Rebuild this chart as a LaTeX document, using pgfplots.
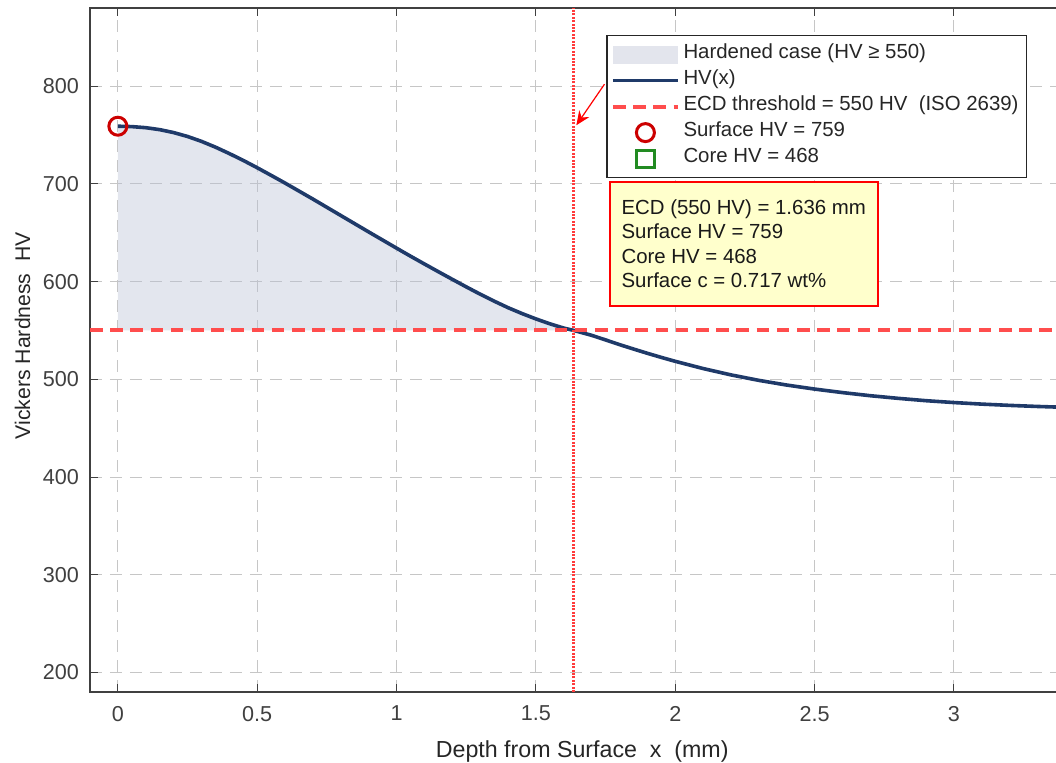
\documentclass[border=0pt]{standalone}
\usepackage{fontspec}
\setmainfont{Liberation Sans}
\usepackage{pgfplots}
\pgfplotsset{compat=1.18}
\usepackage{pgfplotstable}
\usetikzlibrary{arrows.meta}

\definecolor{curvec}{RGB}{31,58,105}
\definecolor{fillc}{RGB}{185,192,212}
\definecolor{thrc}{RGB}{255,77,77}
\definecolor{vlinec}{RGB}{255,60,60}
\definecolor{surfc}{RGB}{204,0,0}
\definecolor{corec}{RGB}{34,139,34}
\definecolor{axc}{RGB}{64,64,64}
\definecolor{txtc}{RGB}{38,38,38}
\definecolor{boxfill}{RGB}{255,255,204}
\definecolor{gridc}{RGB}{198,198,198}

\pgfplotsset{
  lineimg/.style={legend image code/.code={\draw[##1] (0pt,0pt) -- (32.5pt,0pt);}},
  areaimg/.style={legend image code/.code={\path[##1] (0pt,-4.5pt) rectangle (32.5pt,4.5pt);}},
  markimg/.style={legend image code/.code={\draw[mark repeat=2,mark phase=2,##1] plot coordinates {(0pt,0pt) (16.25pt,0pt) (32.5pt,0pt)};}},
}

% HV(x)
\pgfplotstableread{
x HV
0.00 759.0
0.05 758.6
0.10 757.5
0.15 755.5
0.20 752.5
0.25 748.5
0.30 743.5
0.35 737.6
0.40 731.0
0.45 724.0
0.50 716.5
0.55 708.7
0.60 700.8
0.65 692.6
0.70 684.4
0.75 676.0
0.80 667.6
0.85 659.2
0.90 650.8
0.95 642.5
1.00 634.2
1.05 626.0
1.10 618.0
1.15 610.1
1.20 602.3
1.25 594.6
1.30 587.1
1.35 580.0
1.40 573.3
1.45 567.3
1.50 561.8
1.55 556.8
1.60 552.4
1.636 550.0
1.70 545.0
1.75 540.3
1.80 535.5
1.85 531.0
1.90 526.6
1.95 522.4
2.00 518.4
2.10 511.0
2.20 504.5
2.30 498.9
2.40 494.1
2.50 490.0
2.60 486.4
2.70 483.2
2.80 480.5
2.90 478.1
3.00 476.2
3.10 474.6
3.20 473.3
3.30 472.2
3.40 471.3
3.50 470.6
}\hvtab

% hardened case region (HV >= 550), closed along the threshold
\pgfplotstableread{
x HV
0.00 759.0
0.05 758.6
0.10 757.5
0.15 755.5
0.20 752.5
0.25 748.5
0.30 743.5
0.35 737.6
0.40 731.0
0.45 724.0
0.50 716.5
0.55 708.7
0.60 700.8
0.65 692.6
0.70 684.4
0.75 676.0
0.80 667.6
0.85 659.2
0.90 650.8
0.95 642.5
1.00 634.2
1.05 626.0
1.10 618.0
1.15 610.1
1.20 602.3
1.25 594.6
1.30 587.1
1.35 580.0
1.40 573.3
1.45 567.3
1.50 561.8
1.55 556.8
1.60 552.4
1.636 550.0
0.00 550.0
}\filltab

\begin{document}
\begin{tikzpicture}
\begin{axis}[
  name=ax,
  scale only axis,
  width=501.66pt, height=342pt,
  xmin=-0.1, xmax=3.5, ymin=180, ymax=880,
  xtick={0,0.5,1,1.5,2,2.5,3},
  ytick={200,300,400,500,600,700,800},
  /pgf/number format/assume math mode=true,
  tick label style={font=\fontsize{10.8}{13}\selectfont, text=axc},
  xticklabel style={yshift=-3.5pt},
  yticklabel style={xshift=-2pt},
  axis line style={draw=axc, line width=0.6pt},
  every tick/.style={axc, line width=0.5pt},
  major tick length=4pt,
  grid=major,
  major grid style={gridc, line width=0.5pt, dash pattern=on 6pt off 4pt},
  xlabel={Depth from Surface\ \ x\ \ (mm)},
  ylabel={Vickers Hardness\ \ HV},
  xlabel style={font=\fontsize{11.6}{14}\selectfont, text=txtc,
    at={(axis description cs:0.4906,0)}, anchor=base, yshift=-33pt},
  ylabel style={font=\fontsize{10.6}{13}\selectfont, text=txtc,
    at={(axis description cs:0,0.521)}, anchor=center, yshift=33.75pt},
  legend style={at={(axis description cs:0.5146,0.9605)}, anchor=north west,
    draw=txtc, line width=0.6pt, fill=white,
    font=\fontsize{10.2}{12}\selectfont, text=txtc,
    inner xsep=2pt, inner ysep=3pt, row sep=0pt,
    nodes={inner xsep=1.8pt, inner ysep=0pt, text height=8.5pt, text depth=4.5pt}},
  legend cell align=left,
]
\addplot[fill=fillc, fill opacity=0.4, draw=none, areaimg]
  table[x=x, y=HV] {\filltab} -- cycle;
\addlegendentry{Hardened case (HV ≥ 550)}

\addplot[curvec, line width=1.8pt, lineimg] table[x=x, y=HV] {\hvtab};
\addlegendentry{HV(x)}

\addplot[thrc, line width=2pt, dash pattern=on 6.3pt off 3.8pt, lineimg]
  coordinates {(-0.1,550) (3.5,550)};
\addlegendentry{ECD threshold = 550 HV\ \ (ISO 2639)}

\addplot[only marks, mark=o, mark size=4.5pt,
  mark options={draw=surfc, line width=1.5pt, solid}, markimg]
  coordinates {(0,759)};
\addlegendentry{Surface HV = 759}

\addplot[only marks, mark=square, mark size=4.3pt,
  mark options={draw=corec, line width=1.5pt, solid}, markimg]
  coordinates {(3.5,468)};
\addlegendentry{Core HV = 468}

\addplot[vlinec, line width=1.5pt, dash pattern=on 1pt off 0.7pt, forget plot]
  coordinates {(1.636,180) (1.636,880)};

\draw[red, line width=0.6pt, -{Stealth[length=7pt,width=6pt]}]
  (axis cs:1.746,802) -- (axis cs:1.645,760);

\node[draw=red, line width=1.2pt, fill=boxfill, anchor=north west,
  inner xsep=0pt, inner ysep=0pt, minimum width=134pt, minimum height=62pt,
  align=left, font=\fontsize{10.2}{12.25}\selectfont, text=black!90]
  at (axis description cs:0.5168,0.7475)
  {ECD (550 HV) = 1.636 mm\\Surface HV = 759\\Core HV = 468\\Surface c = 0.717 wt\%};
\end{axis}
\pgfresetboundingbox
\path[use as bounding box] ([xshift=-45pt,yshift=-35.5pt]ax.south west) rectangle ([xshift=483pt,yshift=4pt]ax.north west);
\end{tikzpicture}
\end{document}
